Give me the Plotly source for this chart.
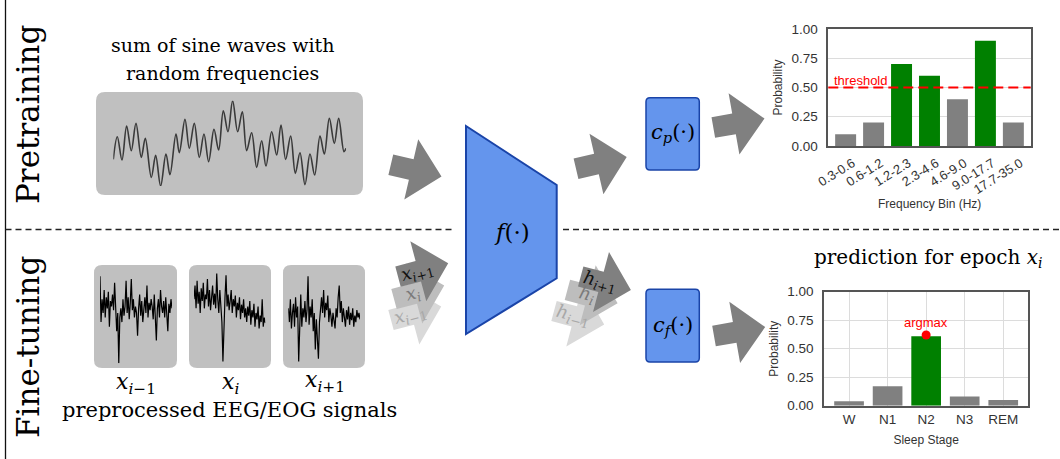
import math
import plotly.graph_objects as go

W, H = 1060, 459

# ---------------- data ----------------
freq_bins = ["0.3-0.6", "0.6-1.2", "1.2-2.3", "2.3-4.6", "4.6-9.0", "9.0-17.7", "17.7-35.0"]
freq_probs = [0.10, 0.20, 0.70, 0.60, 0.40, 0.90, 0.20]
threshold = 0.5
stages = ["W", "N1", "N2", "N3", "REM"]
stage_probs = [0.04, 0.17, 0.61, 0.08, 0.05]
prob_ticks = [0.0, 0.25, 0.5, 0.75, 1.0]

# sum-of-sines illustration (extremes)
sine_t = [70, 82, 96, 110, 124, 138, 154, 166, 184, 197, 212, 228, 240, 258, 268, 285, 298, 313, 328, 342,
          356, 372, 386, 400, 414, 428, 443, 457, 470, 485, 500, 515, 528, 545, 560, 573, 587, 602, 616, 630,
          645, 660, 674, 690, 703, 718, 733, 746, 762, 768]
sine_v = [82, 150, 80, 182, 108, 190, 88, 145, 28, 94, 2, 98, 36, 158, 102, 202, 115, 190, 88, 158,
          75, 172, 110, 228, 165, 258, 165, 225, 108, 162, 58, 138, 62, 165, 95, 185, 82, 152, 40, 102,
          6, 98, 35, 152, 98, 205, 130, 205, 105, 115]

# EEG/EOG epochs (hand-read shapes)
eeg_prev = [0.95, 0.45, 0.70, 0.55, 0.80, 0.50, 0.72, 0.60, 0.78, 0.40, 0.68, 0.62, 0.75, 0.58, 0.88, 0.66, 0.35, 0.55,
            0.00, 0.50, 0.60, 0.45, 0.70, 0.52, 0.62, 0.90, 0.55, 0.72, 0.48, 0.66, 0.92, 0.58, 0.70, 0.50, 0.62, 0.55,
            0.30, 0.60, 0.75, 0.52, 0.68, 0.45, 0.60, 0.72, 0.55, 0.85, 0.50, 0.66, 0.58, 0.70, 0.62, 0.48, 0.75, 0.55,
            0.25, 0.60, 0.70, 0.50, 0.80, 0.62, 0.55, 0.68, 0.50, 0.72, 0.58, 0.35, 0.65, 0.55, 0.70, 0.60]
eeg_curr = [0.70, 0.85, 0.60, 0.90, 0.65, 0.78, 0.55, 0.82, 0.68, 0.88, 0.60, 0.75, 0.70, 0.92, 0.62, 0.80, 0.58, 0.72,
            0.85, 0.64, 0.76, 0.60, 0.98, 0.70, 0.55, 0.80, 0.66, 0.45, 0.02, 0.50, 0.72, 0.96, 0.62, 0.75, 0.58, 0.68,
            0.80, 0.55, 0.70, 0.62, 0.74, 0.50, 0.66, 0.58, 0.72, 0.48, 0.64, 0.55, 0.70, 0.50, 0.60, 0.45, 0.62, 0.52,
            0.68, 0.42, 0.58, 0.50, 0.65, 0.40, 0.55, 0.48, 0.62, 0.38, 0.52, 0.45, 0.70, 0.40, 0.50, 0.44]
eeg_next = [0.60, 0.45, 0.70, 0.38, 0.55, 0.65, 0.40, 0.72, 0.50, 0.62, 0.02, 0.55, 0.75, 0.40, 0.60, 0.50, 0.68, 0.45,
            0.58, 0.95, 0.42, 0.62, 0.50, 0.70, 0.35, 0.55, 0.15, 0.48, 0.30, 0.05, 0.45, 0.60, 0.72, 0.55, 0.80, 0.50,
            0.66, 0.58, 0.74, 0.45, 0.60, 0.52, 0.40, 0.55, 0.48, 0.38, 0.60, 0.50, 0.72, 0.85, 0.55, 0.68, 0.45, 0.60,
            0.50, 0.40, 0.58, 0.48, 0.62, 0.42, 0.55, 0.47, 0.60, 0.40, 0.52, 0.45, 0.58, 0.50, 0.55, 0.48]

# ---------------- style ----------------
SERIF = "DejaVu Serif"
SANS = "Liberation Sans, Arial, sans-serif"
GRAY_BOX = "#c0c0c0"
ARROW = "#808080"
BLUE = "#6495ed"
BLUE_EDGE = "#1a44a8"
GREEN = "#008000"
BAR_GRAY = "#808080"
RED = "#ff0000"


def dom_x(a, b):
    return [a / W, b / W]


def dom_y(top, bottom):
    return [1 - bottom / H, 1 - top / H]


def arrow_path(tx, ty, ang, L=52, w=21, hw=62, hl=31):
    a = math.radians(ang)
    c, s = math.cos(a), math.sin(a)
    loc = [(0, -w / 2), (L - hl, -w / 2), (L - hl, -hw / 2), (L, 0), (L - hl, hw / 2), (L - hl, w / 2), (0, w / 2)]
    pts = [(tx + u * c - v * s, ty + u * s + v * c) for u, v in loc]
    return "M " + " L ".join(f"{x:.1f},{y:.1f}" for x, y in pts) + " Z"


def rrect(x0, y0, x1, y1, r):
    return (f"M {x0 + r},{y0} L {x1 - r},{y0} Q {x1},{y0} {x1},{y0 + r} L {x1},{y1 - r} "
            f"Q {x1},{y1} {x1 - r},{y1} L {x0 + r},{y1} Q {x0},{y1} {x0},{y1 - r} "
            f"L {x0},{y0 + r} Q {x0},{y0} {x0 + r},{y0} Z")


shapes = []


def add_path(path, fill, line_color=None, line_width=0, layer="below"):
    shapes.append(dict(type="path", path=path, xref="x", yref="y", fillcolor=fill, layer=layer,
                       line=dict(color=line_color or fill, width=line_width)))


def add_line(x0, y0, x1, y1, color="#222", width=1.3, dash="solid"):
    shapes.append(dict(type="line", x0=x0, y0=y0, x1=x1, y1=y1, xref="x", yref="y", layer="below",
                       line=dict(color=color, width=width, dash=dash)))


annotations = []


def txt(x, y, text, size, color="black", family=SERIF, angle=0, xanchor="center", yanchor="middle"):
    annotations.append(dict(x=x, y=y, xref="x", yref="y", text=text, showarrow=False, textangle=angle,
                            font=dict(size=size, color=color, family=family),
                            xanchor=xanchor, yanchor=yanchor))


# frame / separators
add_line(5.5, 0, 5.5, H, color="#111", width=1.3)
add_line(5.5, 229.5, 455, 229.5, dash="6px,4px")
add_line(563, 229.5, W, 229.5, dash="6px,4px")

# signal boxes
add_path(rrect(96, 92, 363, 195, 9), GRAY_BOX)
add_path(rrect(94, 265, 177, 368, 8), GRAY_BOX)
add_path(rrect(189, 265, 271, 368, 8), GRAY_BOX)
add_path(rrect(283, 265, 365, 368, 8), GRAY_BOX)

# big arrows
add_path(arrow_path(390.8, 164.7, 13), ARROW)
add_path(arrow_path(576, 168.7, -13), ARROW)
add_path(arrow_path(713.3, 127.5, -10), ARROW)
add_path(arrow_path(714, 336, -10), ARROW)

# stacked x arrows (back to front)
x_arrows = [((391, 320), "#d9d9d9", "<i>x</i><sub><i>i</i>−1</sub>", "#a8a8a8"),
            ((394, 299), "#bdbdbd", "<i>x</i><sub><i>i</i></sub>", "#7a7a7a"),
            ((398, 276.7), "#808080", "<i>x</i><sub><i>i</i>+1</sub>", "#111")]
for (tx, ty), col, lab, lcol in x_arrows:
    add_path(arrow_path(tx, ty, -15), col)
    a = math.radians(-15)
    txt(tx + 20 * math.cos(a), ty + 20 * math.sin(a), lab, 18, color=lcol, angle=-15)

h_arrows = [((554, 311), "#d9d9d9", "<i>h</i><sub><i>i</i>−1</sub>", "#a8a8a8"),
            ((567.4, 289.8), "#bdbdbd", "<i>h</i><sub><i>i</i></sub>", "#7a7a7a"),
            ((580.7, 276.5), "#808080", "<i>h</i><sub><i>i</i>+1</sub>", "#111")]
for (tx, ty), col, lab, lcol in h_arrows:
    add_path(arrow_path(tx, ty, 15), col)
    a = math.radians(15)
    txt(tx + 20 * math.cos(a), ty + 20 * math.sin(a), lab, 18, color=lcol, angle=15)

# encoder trapezoid and heads
add_path("M 466,126 L 556.7,185 L 556.7,278.3 L 466,334 Z", BLUE, BLUE_EDGE, 2)
add_path(rrect(646, 97.7, 699.3, 170, 4), BLUE, BLUE_EDGE, 1.5)
add_path(rrect(646, 289.3, 699.3, 362, 4), BLUE, BLUE_EDGE, 1.5)

# texts
txt(28, 115, "Pretraining", 31, angle=-90)
txt(28, 347, "Fine-tuning", 31, angle=-90)
txt(222, 45, "sum of sine waves with", 19)
txt(222, 73, "random frequencies", 19)
txt(136, 383, "<i>x</i><sub><i>i</i>−1</sub>", 22)
txt(230, 383, "<i>x</i><sub><i>i</i></sub>", 22)
txt(325, 381, "<i>x</i><sub><i>i</i>+1</sub>", 22)
txt(229, 410, "preprocessed EEG/EOG signals", 21)
txt(511.7, 231.7, "<i>f</i>(·)", 23)
txt(673, 133, "<i>c</i><sub><i>p</i></sub>(·)", 21)
txt(673, 326, "<i>c</i><sub><i>f</i></sub>(·)", 21)
txt(928, 258, "prediction for epoch <i>x</i><sub><i>i</i></sub>", 20)

fig = go.Figure()

# base pixel-coordinate canvas
fig.add_trace(go.Scatter(x=[0], y=[0], mode="markers", marker=dict(opacity=0), showlegend=False,
                         hoverinfo="skip", xaxis="x", yaxis="y"))

# sine wave
fig.add_trace(go.Scatter(x=sine_t, y=sine_v, mode="lines", line=dict(color="#3a3a3a", width=1.6, shape="spline",
                                                                     smoothing=1.0),
                         showlegend=False, hoverinfo="skip", xaxis="x4", yaxis="y4"))
# eeg epochs
for sig, ax in [(eeg_prev, "5"), (eeg_curr, "6"), (eeg_next, "7")]:
    fig.add_trace(go.Scatter(x=list(range(len(sig))), y=sig, mode="lines", line=dict(color="black", width=1.2),
                             showlegend=False, hoverinfo="skip", xaxis="x" + ax, yaxis="y" + ax))

# pretraining chart
fig.add_trace(go.Bar(x=list(range(len(freq_bins))), y=freq_probs, width=0.75,
                     marker=dict(color=[GREEN if p > threshold else BAR_GRAY for p in freq_probs], line=dict(width=0)),
                     showlegend=False, hoverinfo="skip", xaxis="x2", yaxis="y2"))
# fine-tuning chart
imax = max(range(len(stage_probs)), key=lambda i: stage_probs[i])
fig.add_trace(go.Bar(x=stages, y=stage_probs, width=0.77,
                     marker=dict(color=[GREEN if i == imax else BAR_GRAY for i in range(len(stages))],
                                 line=dict(width=0)),
                     showlegend=False, hoverinfo="skip", xaxis="x3", yaxis="y3"))
fig.add_trace(go.Scatter(x=[stages[imax]], y=[stage_probs[imax] + 0.01], mode="markers",
                         marker=dict(color=RED, size=9), showlegend=False, hoverinfo="skip",
                         xaxis="x3", yaxis="y3"))

shapes.append(dict(type="line", xref="x2 domain", x0=0, x1=1, yref="y2", y0=threshold, y1=threshold,
                   line=dict(color=RED, width=2, dash="10px,5px"), layer="above"))
annotations.append(dict(xref="x2 domain", x=0.02, yref="y2", y=threshold, yanchor="bottom", xanchor="left",
                        yshift=-3, text="threshold", showarrow=False, font=dict(family=SANS, size=13, color=RED)))
annotations.append(dict(xref="x3", x=stages[imax], yref="y3", y=stage_probs[imax] + 0.04, yanchor="bottom",
                        text="argmax", showarrow=False, font=dict(family=SANS, size=13, color=RED)))

hidden = dict(visible=False, showgrid=False, zeroline=False, fixedrange=True, automargin=False)
FRAME = "#555"
GRID = "#dcdcdc"
TICKF = dict(family=SANS, size=13.5, color="#333")
XTICKF = dict(family=SANS, size=13, color="#333")
TITF = dict(family=SANS, size=12, color="#333")

# x-axis title of the frequency chart, placed just under the rotated tick labels
annotations.append(dict(xref="x2 domain", x=0.5, yref="paper", y=1 - 204 / H, yanchor="middle",
                        text="Frequency Bin (Hz)", showarrow=False, font=TITF))

layout = dict(
    width=W, height=H, margin=dict(l=0, r=0, t=0, b=0, autoexpand=False),
    paper_bgcolor="white", plot_bgcolor="rgba(0,0,0,0)",
    showlegend=False, shapes=shapes, annotations=annotations,
    xaxis=dict(hidden, domain=[0, 1], range=[0, W], anchor="y"),
    yaxis=dict(hidden, domain=[0, 1], range=[H, 0], anchor="x"),
    # sine
    xaxis4=dict(hidden, domain=dom_x(113.3, 346), range=[70, 768], anchor="y4"),
    yaxis4=dict(hidden, domain=dom_y(100.7, 186), range=[2, 258], anchor="x4"),
    xaxis5=dict(hidden, domain=dom_x(100, 172), range=[0, len(eeg_prev) - 1], anchor="y5"),
    yaxis5=dict(hidden, domain=dom_y(271.7, 363.3), range=[0, 1], anchor="x5"),
    xaxis6=dict(hidden, domain=dom_x(194, 265.3), range=[0, len(eeg_curr) - 1], anchor="y6"),
    yaxis6=dict(hidden, domain=dom_y(271.7, 363.3), range=[0, 1], anchor="x6"),
    xaxis7=dict(hidden, domain=dom_x(288.3, 360), range=[0, len(eeg_next) - 1], anchor="y7"),
    yaxis7=dict(hidden, domain=dom_y(271.7, 363.3), range=[0, 1], anchor="x7"),
    # frequency chart
    xaxis2=dict(domain=dom_x(828.3, 1030.7), anchor="y2", range=[-0.62, len(freq_bins) - 0.38],
                tickvals=[i + 0.25 for i in range(len(freq_bins))], ticktext=freq_bins, tickangle=-32,
                showgrid=False, zeroline=False, showline=True, mirror=True, linecolor=FRAME, linewidth=1.5,
                ticks="", tickfont=XTICKF, ticklabelstandoff=3, fixedrange=True, automargin=False),
    xaxis8=dict(overlaying="x2", anchor="y2", range=[-0.62, len(freq_bins) - 0.38],
                tickvals=[i - 0.22 for i in range(len(freq_bins))], showticklabels=False, showgrid=True,
                gridcolor=GRID, gridwidth=1, zeroline=False, showline=False, ticks="", fixedrange=True,
                automargin=False),
    yaxis2=dict(domain=dom_y(29, 146), anchor="x2", range=[0, 1], tickvals=prob_ticks, tickformat=".2f",
                showgrid=True, gridcolor=GRID, zeroline=False, showline=True, mirror=True, linecolor=FRAME,
                linewidth=1.5, ticks="", tickfont=TICKF, ticklabelstandoff=6, fixedrange=True, automargin=False,
                title=dict(text="Probability", font=TITF, standoff=6)),
    # sleep stage chart
    xaxis3=dict(domain=dom_x(824, 1028.3), anchor="y3", range=[-0.65, len(stages) - 0.35],
                showgrid=True, gridcolor=GRID, zeroline=False, showline=True, mirror=True, linecolor=FRAME,
                linewidth=1.5, ticks="", tickfont=TICKF, fixedrange=True, automargin=False,
                title=dict(text="Sleep Stage", font=TITF, standoff=10)),
    yaxis3=dict(domain=dom_y(291.7, 405.7), anchor="x3", range=[0, 1], tickvals=prob_ticks, tickformat=".2f",
                showgrid=True, gridcolor=GRID, zeroline=False, showline=True, mirror=True, linecolor=FRAME,
                linewidth=1.5, ticks="", tickfont=TICKF, ticklabelstandoff=6, fixedrange=True, automargin=False,
                title=dict(text="Probability", font=TITF, standoff=6)),
)
fig.update_layout(**layout)
fig.write_html("out.html", config=dict(displayModeBar=False),
               post_script="document.body.style.margin='0px';")
